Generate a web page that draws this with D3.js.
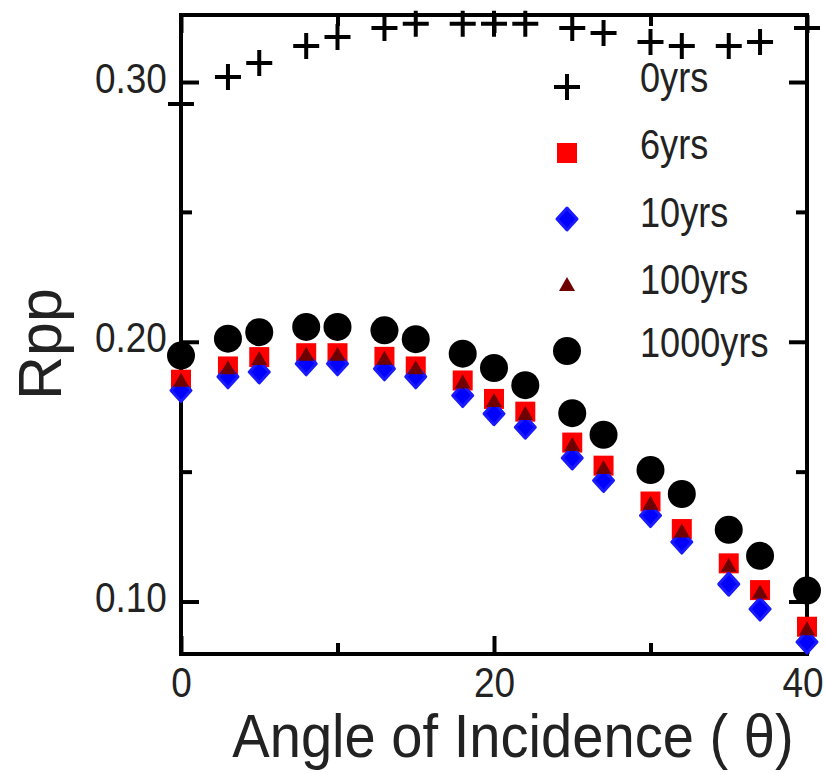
<!DOCTYPE html>
<html>
<head>
<meta charset="utf-8">
<script src="https://cdn.jsdelivr.net/npm/d3@7"></script>
<style>
  html, body { margin: 0; padding: 0; background: #fff; }
  svg { display: block; font-family: 'Liberation Sans', Arial, sans-serif; }
</style>
</head>
<body>
<svg id="chart" width="825" height="773"></svg>
<script>
// Data
const angles = [0, 3, 5, 8, 10, 13, 15, 18, 20, 22, 25, 27, 30, 32, 35, 37, 40];
const rpp0 = [0.2915, 0.3019, 0.3073, 0.3139, 0.3173, 0.3208, 0.3224, 0.3224, 0.3224, 0.3224, 0.3208, 0.3189, 0.3154, 0.3139, 0.3139, 0.3154, 0.3208];
const rpp6 = [0.1854, 0.1905, 0.1941, 0.1956, 0.1956, 0.1942, 0.1905, 0.1851, 0.1780, 0.1731, 0.1612, 0.1523, 0.1385, 0.1279, 0.1147, 0.1044, 0.0903];
const rpp10 = [0.1812, 0.1865, 0.1884, 0.1915, 0.1915, 0.1896, 0.1865, 0.1793, 0.1723, 0.1671, 0.1553, 0.1466, 0.1331, 0.1229, 0.1067, 0.0971, 0.0844];
const rpp100 = [0.1850, 0.1898, 0.1934, 0.1950, 0.1950, 0.1935, 0.1898, 0.1843, 0.1772, 0.1722, 0.1603, 0.1514, 0.1376, 0.1270, 0.1138, 0.1035, 0.0893];
const rpp1000 = [0.1947, 0.2012, 0.2037, 0.2057, 0.2057, 0.2044, 0.2010, 0.1954, 0.1899, 0.1833, 0.1725, 0.1642, 0.1506, 0.1414, 0.1276, 0.1176, 0.1042];
const seriesNames = ['0yrs', '6yrs', '10yrs', '100yrs', '1000yrs'];
const xMajorTicks = [0, 20, 40];
const xMinorTicks = [10, 30];
const yMajorTicks = [0.10, 0.20, 0.30];
const yMinorTicks = [0.15, 0.25];

// Style values
const plotLeft = 181, plotRight = 807, plotTop = 15, plotBottom = 654;
const frameWidth = 4;
const majorLen = 18;
const minorLen = 11;
const tickFont = 42;
const titleFont = 61;
const squeeze = 0.88;

const svg = d3.select('#chart');

const x = d3.scaleLinear().domain([0, 40]).range([plotLeft, plotRight]);
const y = d3.scaleLinear().domain([0.0798, 0.3258]).range([plotBottom, plotTop]);

// Marker shapes, one per series
const markers = [
  { name: seriesNames[0], values: rpp0, draw: (g) => g.append('path').attr('d', 'M-13,0H13M0,-13V13').attr('stroke', '#000').attr('stroke-width', 4).attr('fill', 'none') },
  { name: seriesNames[1], values: rpp6, draw: (g) => g.append('rect').attr('x', -10).attr('y', -10).attr('width', 20).attr('height', 20).attr('fill', '#ff0000') },
  {
    name: seriesNames[2], values: rpp10,
    draw: (g) => g.append('path').attr('d', 'M0,-11L10,0L0,11L-10,0Z')
      .attr('fill', '#0000ff').attr('stroke', '#1a1aff').attr('stroke-width', 3).attr('stroke-linejoin', 'round'),
  },
  { name: seriesNames[3], values: rpp100, draw: (g) => g.append('path').attr('d', 'M0,-8L8,6L-8,6Z').attr('fill', '#6e0000') },
  { name: seriesNames[4], values: rpp1000, draw: (g) => g.append('circle').attr('r', 14).attr('fill', '#000') },
];

// Axes: bottom/left carry labels, top/right mirror the ticks
function styleAxis(g) {
  g.select('.domain').remove();
  g.selectAll('line').attr('stroke', '#000').attr('stroke-width', 4);
  g.selectAll('text')
    .attr('font-size', tickFont)
    .attr('fill', '#222')
    .attr('transform', `scale(${squeeze},1)`);
}

const xBottom = svg.append('g')
  .attr('transform', `translate(0,${plotBottom})`)
  .call(d3.axisBottom(x).tickValues(xMajorTicks).tickSize(-majorLen).tickPadding(13).tickFormat(d3.format('d')))
  .call(styleAxis);
// keep the last label inside the page
xBottom.selectAll('text').filter((d) => d === 40).attr('x', -5);
svg.append('g')
  .attr('transform', `translate(0,${plotBottom})`)
  .call(d3.axisBottom(x).tickValues(xMinorTicks).tickSize(-minorLen).tickFormat(''))
  .call(styleAxis);
svg.append('g')
  .attr('transform', `translate(0,${plotTop})`)
  .call(d3.axisTop(x).tickValues(xMajorTicks).tickSize(-majorLen).tickFormat(''))
  .call(styleAxis);
svg.append('g')
  .attr('transform', `translate(0,${plotTop})`)
  .call(d3.axisTop(x).tickValues(xMinorTicks).tickSize(-minorLen).tickFormat(''))
  .call(styleAxis);

const yLeft = svg.append('g')
  .attr('transform', `translate(${plotLeft},0)`)
  .call(d3.axisLeft(y).tickValues(yMajorTicks).tickSize(-majorLen).tickPadding(16).tickFormat(d3.format('.2f')))
  .call(styleAxis);
yLeft.selectAll('text').attr('dy', '0.24em');
svg.append('g')
  .attr('transform', `translate(${plotLeft},0)`)
  .call(d3.axisLeft(y).tickValues(yMinorTicks).tickSize(-minorLen).tickFormat(''))
  .call(styleAxis);
svg.append('g')
  .attr('transform', `translate(${plotRight},0)`)
  .call(d3.axisRight(y).tickValues(yMajorTicks).tickSize(-majorLen).tickFormat(''))
  .call(styleAxis);
svg.append('g')
  .attr('transform', `translate(${plotRight},0)`)
  .call(d3.axisRight(y).tickValues(yMinorTicks).tickSize(-minorLen).tickFormat(''))
  .call(styleAxis);

// Frame
svg.append('rect')
  .attr('x', plotLeft)
  .attr('y', plotTop)
  .attr('width', plotRight - plotLeft)
  .attr('height', plotBottom - plotTop)
  .attr('fill', 'none')
  .attr('stroke', '#000')
  .attr('stroke-width', frameWidth);

// Points
markers.forEach((m) => {
  const pts = svg.append('g').attr('class', 'series')
    .selectAll('g')
    .data(angles.map((a, i) => ({ a, v: m.values[i] })))
    .enter()
    .append('g')
    .attr('transform', (d) => `translate(${x(d.a)},${y(d.v)})`);
  m.draw(pts);
});

// Legend
const legendSymbolX = 567;
const legendTextX = 640;
const legendSymbolY = [87, 153, 219, 285, 351];
const legendTextY = [92, 159, 227, 294, 357];
markers.forEach((m, i) => {
  const g = svg.append('g').attr('transform', `translate(${legendSymbolX},${legendSymbolY[i]})`);
  m.draw(g);
  svg.append('text')
    .attr('transform', `translate(${legendTextX},${legendTextY[i]}) scale(0.86,1)`)
    .attr('font-size', tickFont)
    .attr('fill', '#222')
    .text(m.name);
});

// Axis titles
svg.append('text')
  .attr('transform', 'translate(513,757) scale(0.92,1)')
  .attr('text-anchor', 'middle')
  .attr('font-size', titleFont)
  .attr('fill', '#222')
  .text('Angle of Incidence ( θ)');

svg.append('text')
  .attr('transform', 'translate(61,344) rotate(-90)')
  .attr('text-anchor', 'middle')
  .attr('font-size', titleFont)
  .attr('fill', '#222')
  .text('Rpp');
</script>
</body>
</html>
